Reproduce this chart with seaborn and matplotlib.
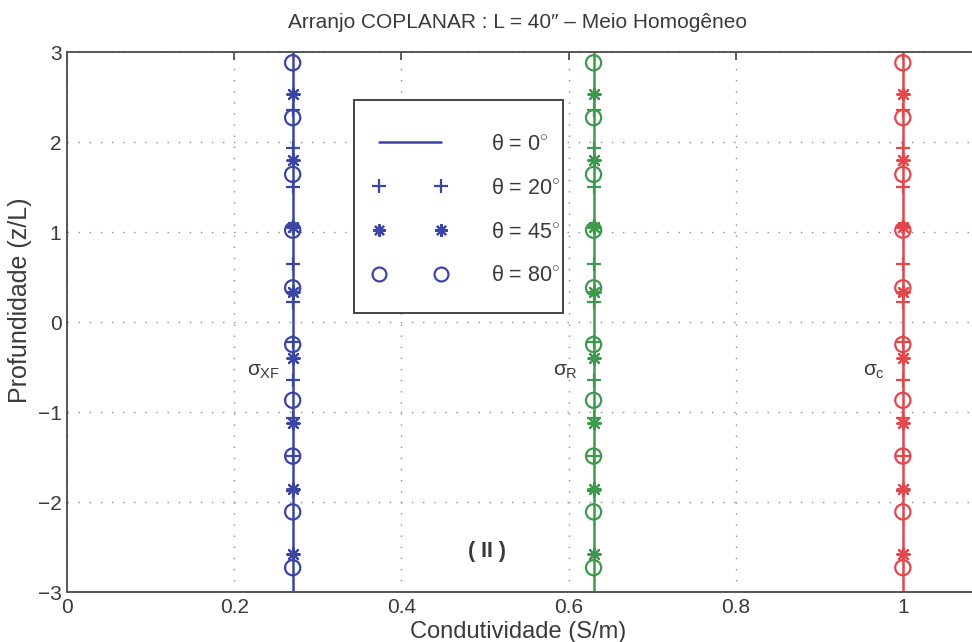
import numpy as np
import pandas as pd
import matplotlib
matplotlib.use("Agg")
import matplotlib.pyplot as plt
from matplotlib.lines import Line2D
from matplotlib.patches import Rectangle
import seaborn as sns

# Conductivity of each component (S/m)
components = ["XF", "R", "c"]
sigma_values = [0.27, 0.63, 1.0]
component_colors = ["#3c44a4", "#3d9a4c", "#e2474c"]

# Depths (z/L) where each dip-angle series was sampled
z_theta0 = [-3.0, 3.0]
z_theta20 = [2.36, 1.93, 1.50, 1.07, 0.65, 0.22, -0.22, -0.64, -1.07, -1.49, -1.88]
z_theta45 = [2.53, 1.80, 1.06, 0.33, -0.40, -1.12, -1.86, -2.58]
z_theta80 = [2.88, 2.27, 1.64, 1.02, 0.38, -0.25, -0.87, -1.49, -2.11, -2.73]

x_ticks = [0, 0.2, 0.4, 0.6, 0.8, 1.0]
x_tick_labels = ["0", "0.2", "0.4", "0.6", "0.8", "1"]
y_ticks = [-3, -2, -1, 0, 1, 2, 3]

sns.set_theme(style="white")
plt.rcParams["font.family"] = ["Liberation Sans", "DejaVu Sans"]
plt.rcParams["mathtext.fontset"] = "custom"
plt.rcParams["mathtext.rm"] = "Liberation Sans"
plt.rcParams["mathtext.it"] = "Liberation Sans"
plt.rcParams["mathtext.sf"] = "Liberation Sans"

text_color = "#3a3a3a"
asterisk = (8, 2, 0)

rows = []
for comp, sig in zip(components, sigma_values):
    for th, zs in [("0", z_theta0), ("20", z_theta20), ("45", z_theta45), ("80", z_theta80)]:
        for z in zs:
            rows.append({"comp": comp, "sigma": sig, "theta": th, "z": z})
df = pd.DataFrame(rows)

W, H = 972, 642
fig = plt.figure(figsize=(W / 100, H / 100), dpi=100)
ax_left, ax_bottom, ax_w, ax_h = 67, 592, 1003, 540
ax = fig.add_axes([ax_left / W, 1 - ax_bottom / H, ax_w / W, ax_h / H])


def ax_frac(px, py):
    return (px - ax_left) / ax_w, (ax_bottom - py) / ax_h


for comp, color in zip(components, component_colors):
    sub = df[df["comp"] == comp]
    line = sub[sub["theta"] == "0"]
    sns.lineplot(data=line, x="sigma", y="z", orient="y", sort=False,
                 color=color, linewidth=1.8, ax=ax, legend=False)
    d20 = sub[sub["theta"] == "20"]
    sns.scatterplot(data=d20, x="sigma", y="z", marker="+", s=100,
                    color=color, linewidth=1.6, ax=ax, legend=False, zorder=3)
    d45 = sub[sub["theta"] == "45"]
    sns.scatterplot(data=d45, x="sigma", y="z", marker=asterisk, s=80,
                    color=color, edgecolor=color, linewidth=1.6, ax=ax,
                    legend=False, zorder=3)
    d80 = sub[sub["theta"] == "80"]
    sns.scatterplot(data=d80, x="sigma", y="z", marker="o", s=120,
                    facecolor="none", edgecolor=color, linewidth=1.6, ax=ax,
                    legend=False, zorder=3)

ax.set_xlim(0, 1.2)
ax.set_ylim(-3, 3)
ax.set_xticks(x_ticks)
ax.set_xticklabels(x_tick_labels)
ax.set_yticks(y_ticks)
ax.grid(True, linestyle=(0, (1, 7)), color="#8a8aa6", linewidth=1.0)
ax.tick_params(direction="in", length=6, width=1.2, top=True, right=True,
               labelsize=15, colors="#444444", labelcolor=text_color, pad=4)
for sp in ax.spines.values():
    sp.set_color("#555555")
    sp.set_linewidth(1.4)

ax.set_xlabel("Condutividade (S/m)", fontsize=17, color=text_color)
ax.set_ylabel("Profundidade (z/L)", fontsize=18, color=text_color)
ax.xaxis.set_label_coords(*ax_frac(518, 632))
ax.yaxis.set_label_coords(*ax_frac(20, 300))
ax.xaxis.label.set_va("center")
ax.yaxis.label.set_va("center")
fig.text(517 / W, 1 - 22 / H, "Arranjo COPLANAR : L = 40\u2033 \u2013 Meio Homog\u00eaneo",
         ha="center", va="center", fontsize=15, color=text_color)

# Component labels
label_pos = [(0.215, -0.55), (0.582, -0.55), (0.952, -0.55)]
for comp, (lx, ly) in zip(components, label_pos):
    ax.text(lx, ly, r"$\sigma_{\rm %s}$" % comp, fontsize=15, color=text_color,
            ha="left", va="center")

ax.text(0.503, -2.55, "( II )", fontsize=15.5, fontweight="bold", color=text_color,
        ha="center", va="center")

legend_color = component_colors[0]
handles = [
    Line2D([], [], color=legend_color, linewidth=1.8),
    Line2D([], [], color=legend_color, linestyle="none", marker="+", markersize=10, markeredgewidth=1.6),
    Line2D([], [], color=legend_color, linestyle="none", marker=asterisk, markersize=9, markeredgewidth=1.6),
    Line2D([], [], color=legend_color, linestyle="none", marker="o", markersize=10,
           markerfacecolor="none", markeredgewidth=1.6),
]
labels = [r"θ = 0$^{\circ}$", r"θ = 20$^{\circ}$", r"θ = 45$^{\circ}$", r"θ = 80$^{\circ}$"]
leg = ax.legend(handles, labels, loc="upper left", bbox_to_anchor=ax_frac(373, 134),
                borderaxespad=0, borderpad=0, numpoints=2, handlelength=74 / 21.3,
                handletextpad=2.0, labelspacing=1.06, fontsize=15.5, frameon=False,
                labelcolor=text_color)

# Legend frame
fx0, fy0 = ax_frac(354, 313)
fx1, fy1 = ax_frac(563, 100)
ax.add_patch(Rectangle((fx0, fy0), fx1 - fx0, fy1 - fy0, transform=ax.transAxes,
                       facecolor="white", edgecolor="#444444", linewidth=1.4, zorder=4))
leg.set_zorder(5)

fig.savefig("out.png", dpi=100)
